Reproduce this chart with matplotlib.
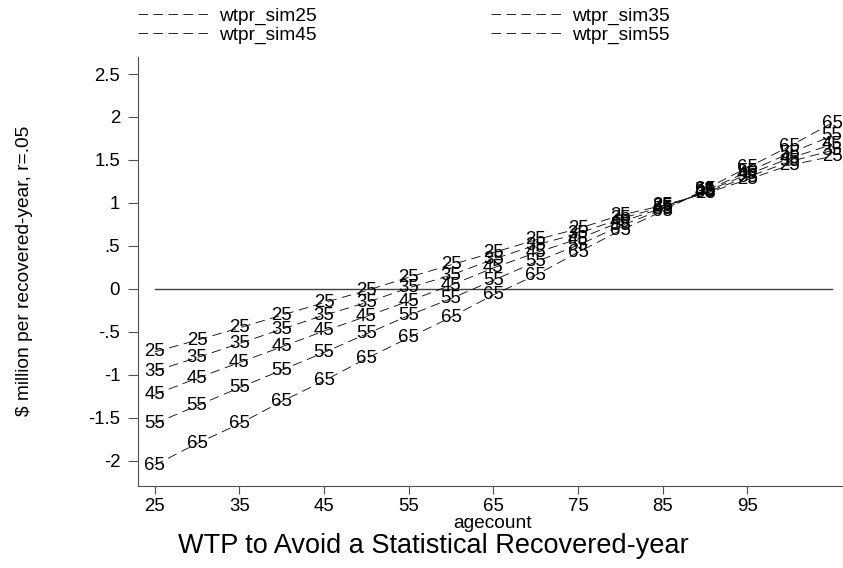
import matplotlib
matplotlib.use("Agg")
import matplotlib.pyplot as plt
from matplotlib.lines import Line2D

plt.rcParams["font.family"] = ["Liberation Sans", "DejaVu Sans"]
plt.rcParams["lines.scale_dashes"] = False

# age at which the simulated WTP path is evaluated
agecount = [25, 30, 35, 40, 45, 50, 55, 60, 65, 70, 75, 80, 85, 90, 95, 100, 105]

# $ million per recovered-year, r=.05 (one series per starting age)
wtpr_sim25 = [-0.733, -0.597, -0.454, -0.306, -0.16, -0.02, 0.135, 0.28, 0.422,
              0.57, 0.70, 0.857, 0.97, 1.11, 1.27, 1.44, 1.54]
wtpr_sim35 = [-0.957, -0.80, -0.636, -0.469, -0.306, -0.16, 0.011, 0.16, 0.345,
              0.51, 0.643, 0.817, 0.955, 1.12, 1.30, 1.48, 1.61]
wtpr_sim45 = [-1.23, -1.04, -0.857, -0.675, -0.49, -0.32, -0.143, 0.043, 0.244,
              0.42, 0.58, 0.778, 0.94, 1.13, 1.33, 1.52, 1.68]
wtpr_sim55 = [-1.567, -1.36, -1.15, -0.946, -0.74, -0.525, -0.31, -0.113, 0.10,
              0.314, 0.508, 0.732, 0.925, 1.14, 1.36, 1.58, 1.78]
wtpr_sim65 = [-2.05, -1.80, -1.57, -1.31, -1.07, -0.81, -0.57, -0.33, -0.07,
              0.16, 0.425, 0.68, 0.905, 1.16, 1.41, 1.66, 1.93]
zero = [0] * len(agecount)

series = [("wtpr_sim25", "25", wtpr_sim25), ("wtpr_sim35", "35", wtpr_sim35),
          ("wtpr_sim45", "45", wtpr_sim45), ("wtpr_sim55", "55", wtpr_sim55),
          ("wtpr_sim65", "65", wtpr_sim65)]
# legend is filled column by column, so this order gives rows 25|35 and 45|55
legend_names = ["wtpr_sim25", "wtpr_sim45", "wtpr_sim35", "wtpr_sim55"]

yticks = [-2, -1.5, -1, -0.5, 0, 0.5, 1, 1.5, 2, 2.5]
ytick_labels = ["-2", "-1.5", "-1", "-.5", "0", ".5", "1", "1.5", "2", "2.5"]
xticks = [25, 35, 45, 55, 65, 75, 85, 95]

W, H = 843, 568
fig = plt.figure(figsize=(W / 100, H / 100), dpi=100)
ax = fig.add_axes([138.3 / W, 1 - 485.5 / H, (846 - 138.3) / W, (485.5 - 57) / H])

dash = (0, (6.8, 4.0))
axis_c = "#505050"

ax.plot(agecount, zero, color="#404040", lw=1.0)
for name, lab, ys in series:
    ax.plot(agecount, ys, color="black", lw=0.6, linestyle=dash)
    for x, y in zip(agecount, ys):
        ax.text(x, y, lab, ha="center", va="center", fontsize=13.4, color="black")

ax.set_xlim(23.06, 106.65)
ax.set_ylim(-2.288, 2.698)
ax.set_xticks(xticks)
ax.set_yticks(yticks)
ax.set_yticklabels(ytick_labels)
ax.tick_params(axis="y", length=7, width=0.8, color=axis_c, labelsize=13.4, pad=6)
ax.tick_params(axis="x", length=6, width=0.8, color=axis_c, labelsize=13.4, pad=3)
for s in ("top", "right"):
    ax.spines[s].set_visible(False)
for s in ("left", "bottom"):
    ax.spines[s].set_color(axis_c)
    ax.spines[s].set_linewidth(0.8)

ax.set_xlabel("agecount", fontsize=13.8, labelpad=0)
ax.set_ylabel("$ million per recovered-year, r=.05", fontsize=13.8, labelpad=40)

handles = [Line2D([], [], color="black", lw=0.6, linestyle=dash) for _ in legend_names]
fig.legend(handles, legend_names, loc="upper left", bbox_to_anchor=(138 / W, 1 - 7.5 / H),
           ncol=2, frameon=False, fontsize=13.8, handlelength=3.8, handletextpad=0.42,
           columnspacing=9.1, labelspacing=0.08, borderpad=0, borderaxespad=0)

fig.text(433.5 / W, 1 - 553.3 / H, "WTP to Avoid a Statistical Recovered-year",
         ha="center", va="baseline", fontsize=19.5)

fig.savefig("out.png", dpi=100)
